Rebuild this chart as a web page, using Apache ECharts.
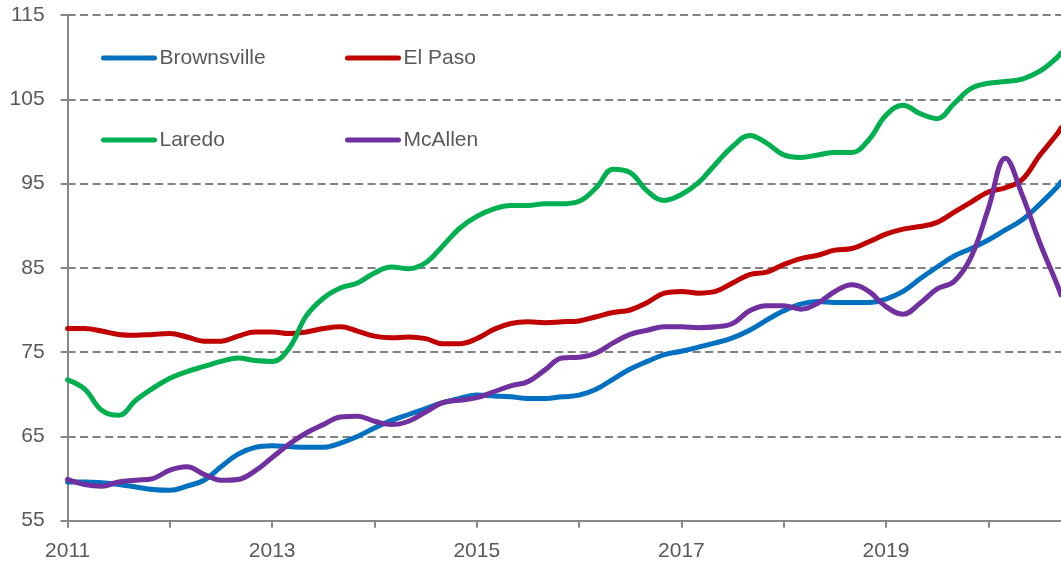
<!DOCTYPE html>
<html>
<head>
<meta charset="utf-8">
<script src="https://cdn.jsdelivr.net/npm/echarts@6/dist/echarts.min.js"></script>
<style>
  html, body { margin: 0; padding: 0; background: #fff; }
  #main { width: 1061px; height: 567px; }
</style>
</head>
<body>
<div id="main"></div>
<script>
// sample dates (decimal years, every two months, last one at the right edge)
const times = [
  2011.000, 2011.167, 2011.333, 2011.500, 2011.667, 2011.833,
  2012.000, 2012.167, 2012.333, 2012.500, 2012.667, 2012.833,
  2013.000, 2013.167, 2013.333, 2013.500, 2013.667, 2013.833,
  2014.000, 2014.167, 2014.333, 2014.500, 2014.667, 2014.833,
  2015.000, 2015.167, 2015.333, 2015.500, 2015.667, 2015.833,
  2016.000, 2016.167, 2016.333, 2016.500, 2016.667, 2016.833,
  2017.000, 2017.167, 2017.333, 2017.500, 2017.667, 2017.833,
  2018.000, 2018.167, 2018.333, 2018.500, 2018.667, 2018.833,
  2019.000, 2019.167, 2019.333, 2019.500, 2019.667, 2019.833,
  2020.000, 2020.167, 2020.333, 2020.500, 2020.667, 2020.711
]

const brownsville = [
  59.6, 59.6, 59.5, 59.3, 59.0, 58.7,
  58.6, 59.1, 59.8, 61.4, 62.9, 63.7,
  63.9, 63.8, 63.7, 63.7, 64.2, 65.0,
  66.0, 66.9, 67.6, 68.3, 69.0, 69.5,
  69.9, 69.8, 69.7, 69.5, 69.5, 69.7,
  69.9, 70.6, 71.8, 73.0, 73.9, 74.7,
  75.1, 75.6, 76.1, 76.7, 77.6, 78.8,
  79.9, 80.7, 81.0, 80.9, 80.9, 80.9,
  81.3, 82.2, 83.7, 85.1, 86.4, 87.3,
  88.3, 89.5, 90.7, 92.5, 94.5, 95.2
]

const elPaso = [
  77.8, 77.8, 77.5, 77.1, 77.0, 77.1,
  77.2, 76.8, 76.3, 76.3, 76.9, 77.4,
  77.4, 77.2, 77.4, 77.8, 78.0, 77.5,
  76.9, 76.7, 76.8, 76.6, 76.0, 76.0,
  76.6, 77.7, 78.4, 78.6, 78.5, 78.6,
  78.7, 79.2, 79.7, 80.0, 80.9, 82.0,
  82.2, 82.0, 82.2, 83.2, 84.2, 84.5,
  85.4, 86.1, 86.5, 87.1, 87.3, 88.1,
  89.0, 89.6, 89.9, 90.4, 91.6, 92.8,
  94.0, 94.5, 95.5, 98.3, 100.8, 101.6
]

const laredo = [
  71.7, 70.6, 68.1, 67.5, 69.3, 70.7,
  71.9, 72.7, 73.3, 73.9, 74.3, 74.0,
  73.9, 75.5, 79.3, 81.4, 82.6, 83.2,
  84.4, 85.1, 84.9, 85.6, 87.6, 89.7,
  91.1, 92.0, 92.4, 92.4, 92.6, 92.6,
  92.9, 94.5, 96.7, 96.3, 94.1, 93.0,
  93.7, 95.1, 97.3, 99.4, 100.7, 99.8,
  98.4, 98.1, 98.4, 98.7, 98.7, 100.2,
  103.1, 104.3, 103.3, 102.7, 104.5, 106.3,
  106.9, 107.1, 107.4, 108.3, 109.9, 110.5
]

const mcAllen = [
  59.9, 59.3, 59.1, 59.6, 59.8, 60.0,
  61.0, 61.4, 60.5, 59.8, 59.9, 60.9,
  62.5, 64.1, 65.4, 66.4, 67.3, 67.4,
  66.8, 66.4, 66.8, 67.9, 69.0, 69.3,
  69.6, 70.3, 71.0, 71.5, 72.9, 74.3,
  74.4, 74.9, 76.1, 77.1, 77.6, 78.0,
  78.0, 77.9, 78.0, 78.4, 79.9, 80.5,
  80.5, 80.1, 80.8, 82.2, 83.0, 82.2,
  80.4, 79.5, 80.8, 82.5, 83.4, 86.3,
  92.0, 98.0, 93.6, 88.1, 83.2, 81.8
]

const yTicks = { min: 55, max: 115, step: 10 }

const font = 'Liberation Sans, Arial, sans-serif'
const textColor = '#595959'
const axisColor = '#898989'

const pairs = vals => times.map((t, i) => [t, vals[i]])

const lineSeries = (name, color, vals) => ({
  name,
  type: 'line',
  data: pairs(vals),
  smooth: 0.4,
  symbol: 'none',
  lineStyle: { color, width: 5, cap: 'round', join: 'round' },
  itemStyle: { color },
  emphasis: { disabled: true }
})

// legend: plain rounded line, no marker in the middle
const legendBase = {
  orient: 'vertical',
  padding: 0,
  itemWidth: 51,
  itemHeight: 21,
  itemGap: 61,
  textStyle: { fontFamily: font, fontSize: 21, color: textColor },
  itemStyle: { opacity: 0 },
  lineStyle: { width: 5, cap: 'round' }
}

const myChart = echarts.init(document.getElementById('main'), null, { renderer: 'canvas' })

myChart.setOption({
  animation: false,
  backgroundColor: '#ffffff',
  grid: { left: 67.6, right: 0, top: 15, bottom: 46.3, containLabel: false, outerBoundsMode: 'none' },
  legend: [
    { ...legendBase, left: 101, top: 47.5, data: ['Brownsville', 'Laredo'] },
    { ...legendBase, left: 345, top: 47.5, data: ['El Paso', 'McAllen'] }
  ],
  xAxis: {
    type: 'value',
    min: 2011,
    max: 2020.711,
    interval: 1,
    axisLine: { show: true, lineStyle: { color: axisColor, width: 2 } },
    axisTick: { show: true, length: 7, lineStyle: { color: axisColor, width: 2 } },
    splitLine: { show: false },
    axisLabel: {
      margin: 20,
      fontFamily: font,
      fontSize: 21,
      color: textColor,
      showMaxLabel: false,
      formatter: v => (Number.isInteger(v) && v % 2 === 1 ? String(v) : '')
    }
  },
  yAxis: {
    type: 'value',
    min: yTicks.min,
    max: yTicks.max,
    interval: yTicks.step,
    axisLine: { show: true, lineStyle: { color: axisColor, width: 2 } },
    axisTick: { show: true, length: 7, lineStyle: { color: axisColor, width: 2 } },
    splitLine: { show: true, lineStyle: { color: '#808080', width: 2, type: [8, 4.5] } },
    axisLabel: { margin: 23, fontFamily: font, fontSize: 21, color: textColor }
  },
  series: [
    lineSeries('Brownsville', '#0070C0', brownsville),
    lineSeries('El Paso', '#C00000', elPaso),
    lineSeries('Laredo', '#00B050', laredo),
    lineSeries('McAllen', '#7030A0', mcAllen)
  ]
})
</script>
</body>
</html>
